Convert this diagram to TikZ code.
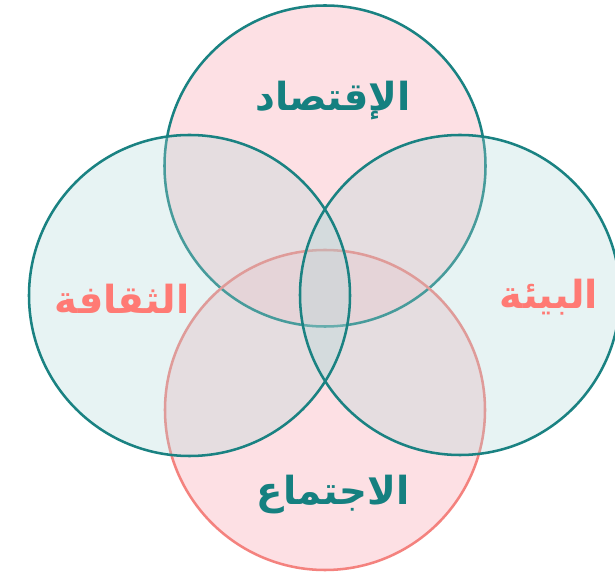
\documentclass[tikz,border=0pt]{standalone}
\usepackage{fontspec}
\newfontfamily\arabicfont[Script=Arabic]{DejaVu Sans}
\TeXXeTstate=1
\definecolor{tealline}{HTML}{1A8282}
\definecolor{tealtext}{HTML}{158080}
\definecolor{pinklayer}{HTML}{FCC9CF}
\definecolor{salmon}{HTML}{F4827E}
\definecolor{salmontext}{HTML}{FF7A74}
\definecolor{teallayer}{HTML}{B0D8D8}
\tikzset{
  ring/.style={circle, inner sep=0pt},
  edge/.style={line width=1.9pt},
  lbl/.style={font=\arabicfont\bfseries\fontsize{29}{34}\selectfont, inner sep=0pt},
}
\begin{document}
\begin{tikzpicture}[x=0.75pt,y=-0.75pt]
\useasboundingbox (0,0) rectangle (615,573);
\fill[white] (0,0) rectangle (615,573);
% pink layers (top and bottom)
\node[ring, minimum size=321*0.75pt, fill=pinklayer, fill opacity=0.56] (top) at (325,166) {};
\node[ring, minimum size=320*0.75pt, fill=pinklayer, fill opacity=0.56] (bot) at (325,410) {};
\node[ring, minimum size=321*0.75pt, draw=tealline, edge] (topline) at (325,166) {};
\node[ring, minimum size=320*0.75pt, draw=salmon, edge] (botline) at (325,410) {};
% teal layers (left and right)
\node[ring, minimum size=321*0.75pt, fill=teallayer, fill opacity=0.3] (left) at (189.5,295.5) {};
\node[ring, minimum size=320*0.75pt, fill=teallayer, fill opacity=0.3] (right) at (460,295) {};
\node[ring, minimum size=321*0.75pt, draw=tealline, edge] (leftline) at (189.5,295.5) {};
\node[ring, minimum size=320*0.75pt, draw=tealline, edge] (rightline) at (460,295) {};
% labels
\node[lbl, text=tealtext] (t1) at (333,101) {\beginR الإقتصاد\endR};
\node[lbl, text=salmontext] (t2) at (122,299) {\beginR الثقافة\endR};
\node[lbl, text=salmontext] (t3) at (549,297) {\beginR البيئة\endR};
\node[lbl, text=tealtext] (t4) at (333,495) {\beginR الاجتماع\endR};
\end{tikzpicture}
\end{document}
